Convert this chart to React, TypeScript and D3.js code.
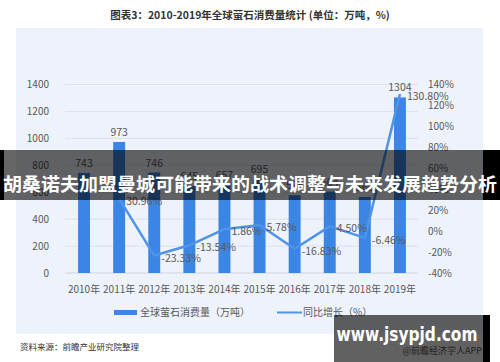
import React from "react";
import * as d3 from "d3";

// 全球萤石消费量 2010-2019
const years = ["2010年", "2011年", "2012年", "2013年", "2014年", "2015年", "2016年", "2017年", "2018年", "2019年"];
const consumption = [743, 973, 746, 645, 657, 695, 578, 604, 565, 1304];
const growth = [null, 30.96, -23.33, -13.54, 1.86, 5.78, -16.83, 4.5, -6.46, 130.8];
const leftTicks = [0, 200, 400, 600, 800, 1000, 1200, 1400];
const rightTicks = [-40, -20, 0, 20, 40, 60, 80, 100, 120, 140];

const W = 500;
const H = 362;
const FONT = "'Noto Sans CJK SC', 'Noto Sans', sans-serif";

const App = () => {
  const x = d3.scaleBand().domain(years).range([66.5, 417.5]).paddingInner(0.66).paddingOuter(0.33);
  const yL = d3.scaleLinear().domain([0, 1400]).range([273, 84.5]);
  const yR = d3.scaleLinear().domain([-40, 140]).range([273, 84.5]);
  const cx = (d) => x(d) + x.bandwidth() / 2;

  const pts = years
    .map((yr, i) => ({ yr, v: growth[i] }))
    .filter((d) => d.v !== null);
  const line = d3
    .line()
    .x((d) => cx(d.yr))
    .y((d) => yR(d.v));

  const txt = { fontFamily: FONT, fill: "#595959" };

  return (
    <div style={{ position: "absolute", left: 0, top: 0 }}>
      <svg width={W} height={H} style={{ display: "block", background: "#fff" }}>
        <text x={250} y={19} textAnchor="middle" fontSize={10.5} fontWeight="bold" fill="#333" fontFamily={FONT}>
          图表3：2010-2019年全球萤石消费量统计 (单位：万吨，%)
        </text>
        <rect x={16} y={28} width={467} height={306} fill="#eef2fa" />

        {/* grid */}
        {leftTicks.map((t) => (
          <line key={t} x1={65} x2={418} y1={yL(t)} y2={yL(t)} stroke={t === 0 ? "#d0d4dc" : "#dde1e8"} strokeWidth={1} />
        ))}

        {/* left axis */}
        {leftTicks.map((t) => (
          <text key={t} x={49} y={yL(t) + 3.5} textAnchor="end" fontSize={10} {...txt}>
            {t}
          </text>
        ))}
        {/* right axis */}
        {rightTicks.map((t) => (
          <text key={t} x={428} y={yR(t) + 3.5} textAnchor="start" fontSize={10} {...txt}>
            {t}%
          </text>
        ))}

        {/* bars */}
        {years.map((yr, i) => (
          <rect key={yr} x={x(yr)} y={yL(consumption[i])} width={x.bandwidth()} height={yL(0) - yL(consumption[i])} fill="#3b86e4" />
        ))}
        {years.map((yr, i) => (
          <text key={yr} x={cx(yr)} y={yL(consumption[i]) - 6} textAnchor="middle" fontSize={10.5} {...txt}>
            {consumption[i]}
          </text>
        ))}

        {/* growth line */}
        <path d={line(pts)} fill="none" stroke="#4f94e8" strokeWidth={2.5} strokeLinejoin="round" />
        {pts.map((d) => (
          <text key={d.yr} x={cx(d.yr) + 7} y={yR(d.v) + 6} textAnchor="start" fontSize={10.5} {...txt}>
            {d.v.toFixed(2)}%
          </text>
        ))}

        {/* x labels */}
        {years.map((yr) => (
          <text key={yr} x={cx(yr)} y={293} textAnchor="middle" fontSize={10} {...txt}>
            {yr}
          </text>
        ))}

        {/* legend */}
        <rect x={114} y={310} width={23} height={5} fill="#3b86e4" />
        <text x={140} y={316} fontSize={10} {...txt}>全球萤石消费量（万吨）</text>
        <line x1={277} x2={302} y1={312.5} y2={312.5} stroke="#4f94e8" strokeWidth={2} />
        <text x={303} y={316} fontSize={10} {...txt}>同比增长（%）</text>

        <text x={20} y={350} fontSize={8.5} fill="#333" fontFamily={FONT}>
          资料来源：前瞻产业研究院整理
        </text>

        {/* banner overlay */}
        <rect x={0} y={150} width={4} height={50} fill="#000" />
        <rect x={483} y={150} width={17} height={50} fill="#000" />
        <rect x={4} y={150} width={479} height={50} fill="rgba(0,0,0,0.6)" />
        <text x={250} y={191} textAnchor="middle" fontSize={18.6} fontWeight="bold" fill="#fff" fontFamily={FONT} textLength={494} lengthAdjust="spacingAndGlyphs">
          胡桑诺夫加盟曼城可能带来的战术调整与未来发展趋势分析
        </text>

        {/* site watermark box */}
        <rect x={334} y={315} width={149} height={47} fill="rgba(0,0,0,0.62)" />
        <rect x={483} y={315} width={7} height={47} fill="#000" />
        <text x={407} y={341} textAnchor="middle" fontSize={19} fontWeight="bold" fill="#fff" fontFamily="'DejaVu Sans', sans-serif" textLength={141} lengthAdjust="spacingAndGlyphs">
          www.jsypjd.com
        </text>
        <text x={482} y={354} textAnchor="end" fontSize={9} fill="#222" fontFamily={FONT}>
          @前瞻经济学人APP
        </text>
      </svg>
    </div>
  );
};

export default App;
